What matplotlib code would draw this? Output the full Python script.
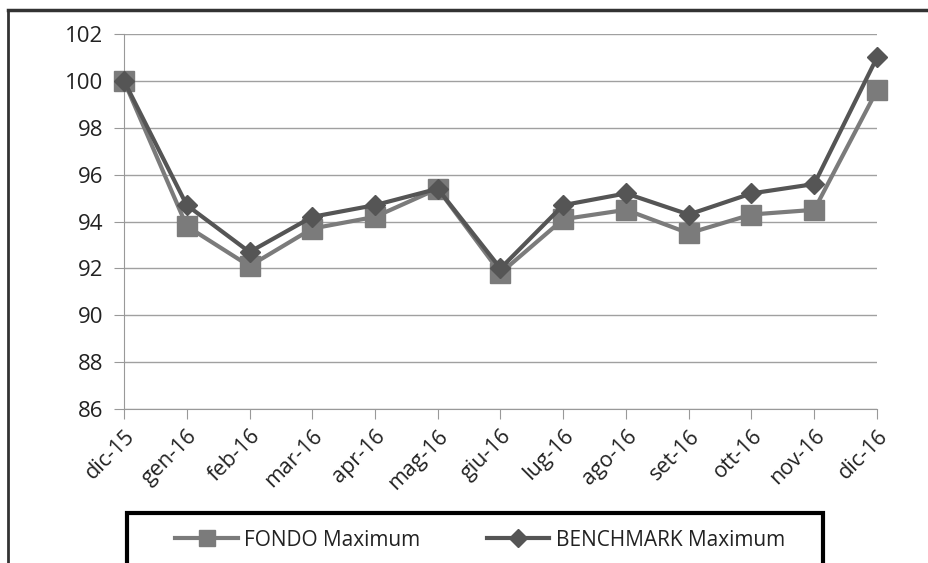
import matplotlib.pyplot as plt
from matplotlib.patches import Rectangle
from matplotlib.lines import Line2D

plt.rcParams['font.family'] = ['Open Sans', 'DejaVu Sans']

# data
months = ['dic-15', 'gen-16', 'feb-16', 'mar-16', 'apr-16', 'mag-16', 'giu-16',
          'lug-16', 'ago-16', 'set-16', 'ott-16', 'nov-16', 'dic-16']
fondo = [100.0, 93.8, 92.1, 93.7, 94.2, 95.4, 91.8, 94.1, 94.5, 93.5, 94.3, 94.5, 99.6]
benchmark = [100.0, 94.7, 92.7, 94.2, 94.7, 95.4, 92.0, 94.7, 95.2, 94.3, 95.2, 95.6, 101.0]
yticks = [86, 88, 90, 92, 94, 96, 98, 100, 102]

fig = plt.figure(figsize=(9.29, 5.63), dpi=100)
ax = fig.add_axes([0.1335, 0.2735, 0.8105, 0.666])

x = range(len(months))
ax.plot(x, fondo, color='#7b7b7b', lw=3, marker='s', ms=14, zorder=3, clip_on=False)
ax.plot(x, benchmark, color='#555555', lw=3, marker='D', ms=10, zorder=4, clip_on=False)

ax.set_xlim(0, len(months) - 1)
ax.set_ylim(86, 102)
ax.set_yticks(yticks)
ax.set_xticks(list(x))
ax.set_xticklabels(months, rotation=45, ha='right', rotation_mode='anchor', fontsize=15.5, color='#222222')
ax.tick_params(axis='y', labelsize=16, colors='#222222', length=7, color='#999999', pad=8)
ax.tick_params(axis='x', length=7, color='#999999', pad=5)
ax.grid(axis='y', color='#a0a0a0', lw=1)
ax.set_axisbelow(True)
for s in ['top', 'right']:
    ax.spines[s].set_visible(False)
ax.spines['left'].set_color('#999999')
ax.spines['bottom'].set_color('#999999')

# outer frame (left and top edges visible)
W, H = 929, 563
fig.add_artist(Line2D([8 / W, 8 / W], [0, 1 - 10 / H], color='#333333', lw=2))
fig.add_artist(Line2D([8 / W, 1], [1 - 10 / H, 1 - 10 / H], color='#333333', lw=2.5))

# legend box
fig.add_artist(Rectangle((127 / W, -0.05), (823 - 127) / W, 0.05 + (563 - 513) / H,
                         fill=False, ec='black', lw=3, transform=fig.transFigure))
handles = [Line2D([], [], color='#7b7b7b', lw=3, marker='s', ms=12),
           Line2D([], [], color='#555555', lw=3, marker='D', ms=9)]
fig.legend(handles, ['FONDO Maximum', 'BENCHMARK Maximum'], loc='center',
           bbox_to_anchor=(480 / W, 1 - 540 / H), ncol=2, frameon=False,
           fontsize=15, handlelength=3.0, columnspacing=3.2, handletextpad=0.3,
           labelcolor='#222222')

fig.savefig('out.png', dpi=100)
